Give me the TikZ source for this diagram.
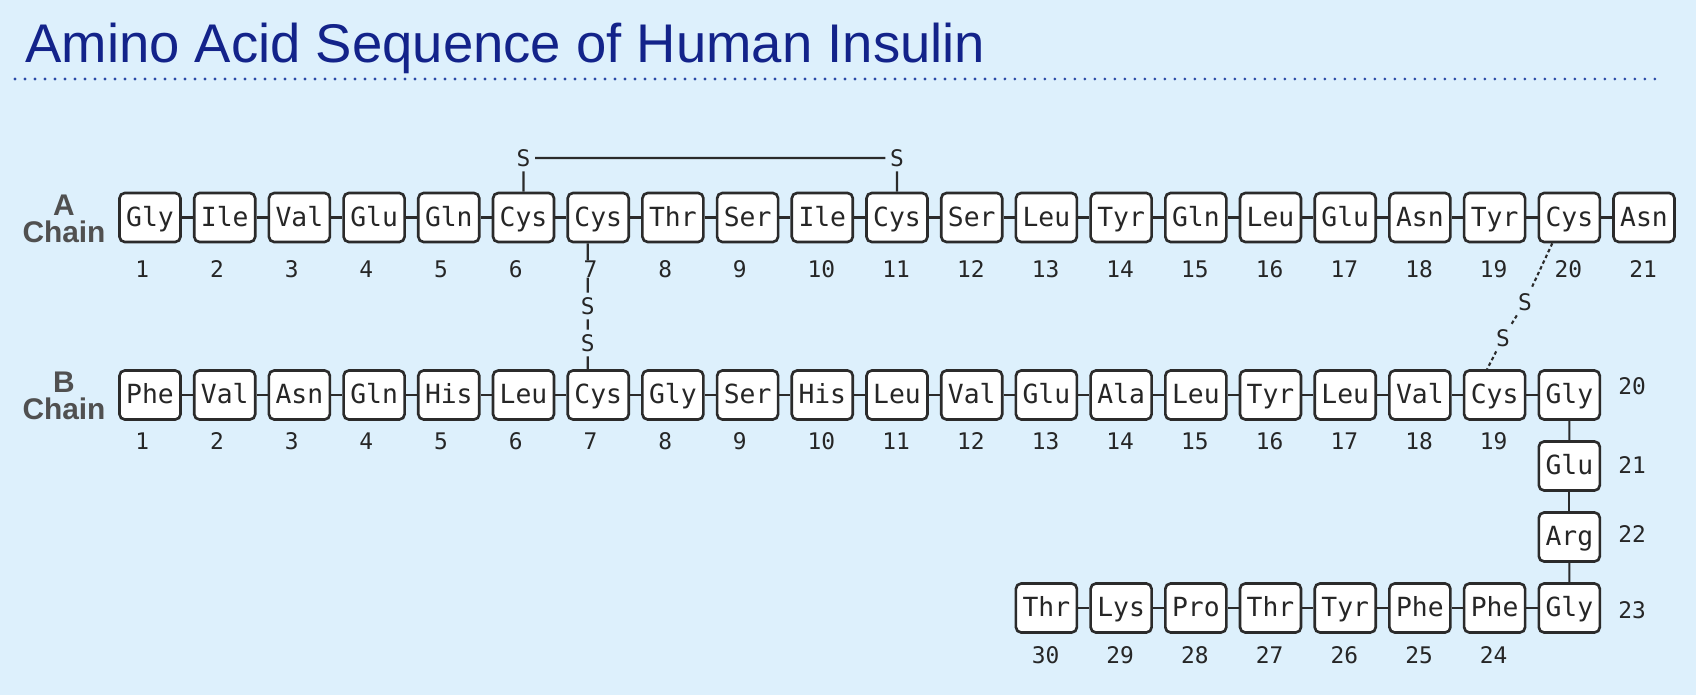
\documentclass[tikz,border=0pt]{standalone}
\usepackage{fontspec}
\setmainfont{Liberation Sans}
\newfontfamily\resfont{DejaVu Sans Mono}
\usepackage{tikz}
\usetikzlibrary{positioning}
\definecolor{bgblue}{HTML}{DDF0FC}
\definecolor{titleblue}{HTML}{13238A}
\definecolor{dotblue}{HTML}{2A4AA8}
\definecolor{boxline}{HTML}{2B2B2B}
\definecolor{labelgray}{HTML}{505050}

\begin{document}
\begin{tikzpicture}[
    resbox/.style={
        rectangle,
        rounded corners=3pt,
        draw=boxline,
        fill=white,
        line width=1.5pt,
        minimum width=1.22cm,
        minimum height=0.98cm,
        inner sep=0pt,
        text height=11pt,
        text depth=1pt,
        text=black!85,
        font=\resfont\fontsize{15}{15}\selectfont
    },
    resnum/.style={anchor=west, inner sep=0pt, text=black!85, font=\resfont\fontsize{13}{13}\selectfont},
    sulfur/.style={inner sep=2.5pt, text=black!85, font=\resfont\fontsize{13}{13}\selectfont},
    bond/.style={draw=boxline, line width=1.2pt},
    chainlabel/.style={align=center, text=labelgray, font=\bfseries\fontsize{17}{15.4}\selectfont}
]
    % Background
    \fill[bgblue] (0,0) rectangle (33.92,13.9);

    % Title
    \node[anchor=base west, inner sep=0pt, text=titleblue, font=\fontsize{31}{31}\selectfont] (title) at (0.5,12.64) {Amino Acid Sequence of Human Insulin};
    \draw[dotblue, line width=1.8pt, line cap=round, dash pattern=on 0pt off 5.69pt] (0.3,12.32) -- (33.26,12.32);

    % === A CHAIN ===
    \node[chainlabel] (alabel) at (1.28,9.53) {A\\Chain};
    \foreach \res [count=\i] in {Gly,Ile,Val,Glu,Gln,Cys,Cys,Thr,Ser,Ile,Cys,Ser,Leu,Tyr,Gln,Leu,Glu,Asn,Tyr,Cys,Asn} {
        \node[resbox] (a\i) at ({3+(\i-1)*1.494},9.55) {\res};
        \node[resnum] (na\i) at ({3+(\i-1)*1.494-0.3},8.52) {\i};
    }
    \foreach \i in {2,...,21} {
        \pgfmathtruncatemacro\j{\i-1}
        \draw[bond] (a\j) -- (a\i);
    }

    % === B CHAIN ===
    \node[chainlabel] (blabel) at (1.28,5.99) {B\\Chain};
    \foreach \res [count=\i] in {Phe,Val,Asn,Gln,His,Leu,Cys,Gly,Ser,His,Leu,Val,Glu,Ala,Leu,Tyr,Leu,Val,Cys,Gly} {
        \node[resbox] (b\i) at ({3+(\i-1)*1.494},6.0) {\res};
    }
    \foreach \i in {1,...,19} {
        \node[resnum] (nb\i) at ({3+(\i-1)*1.494-0.3},5.08) {\i};
    }
    \node[resbox] (b21) at (31.386,4.58) {Glu};
    \node[resbox] (b22) at (31.386,3.16) {Arg};
    \foreach \res [count=\k from 23] in {Gly,Phe,Phe,Tyr,Thr,Pro,Lys,Thr} {
        \node[resbox] (b\k) at ({3+(42-\k)*1.494},1.74) {\res};
        \ifnum\k>23
            \node[resnum] (nb\k) at ({3+(42-\k)*1.494-0.3},0.8) {\k};
        \fi
    }
    \node[resnum, anchor=center] (nb20) at (32.64,6.18) {20};
    \node[resnum, anchor=center] (nb21) at (32.64,4.60) {21};
    \node[resnum, anchor=center] (nb22) at (32.64,3.22) {22};
    \node[resnum, anchor=center] (nb23) at (32.64,1.70) {23};
    \foreach \i in {2,...,30} {
        \pgfmathtruncatemacro\j{\i-1}
        \draw[bond] (b\j) -- (b\i);
    }

    % === DISULFIDE BRIDGES ===
    % A6 - A11
    \node[sulfur] (s6) at (10.47,10.74) {S};
    \node[sulfur] (s11) at (17.94,10.74) {S};
    \draw[bond] (a6) -- (s6) -- (s11) -- (a11);

    % A7 - B7
    \node[sulfur] (s7a) at (11.754,7.78) {S};
    \node[sulfur] (s7b) at (11.754,7.04) {S};
    \draw[bond] ([xshift=-0.21cm]a7.south) -- (na7.north -| s7a);
    \draw[bond] (na7.south -| s7a) -- (s7a) -- (s7b) -- ([xshift=-0.21cm]b7.north);

    % A20 - B19
    \node[sulfur] (s20a) at (30.5,7.86) {S};
    \node[sulfur] (s20b) at (30.06,7.14) {S};
    \draw[bond, dash pattern=on 2pt off 1.6pt] ([xshift=-0.34cm]a20.south) -- (s20a) -- (s20b) -- ([xshift=-0.15cm]b19.north);
\end{tikzpicture}
\end{document}
